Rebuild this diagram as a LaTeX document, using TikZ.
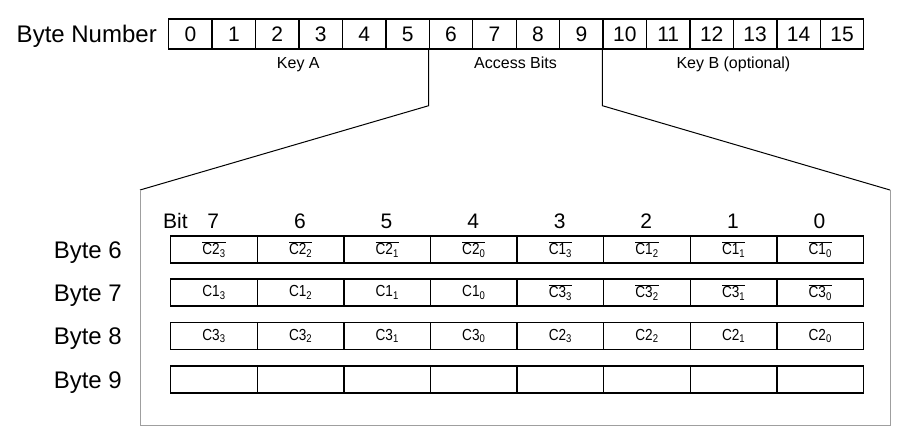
\documentclass[tikz,border=0pt]{standalone}
\usepackage{fontspec}
\setmainfont{Liberation Sans}
\newfontfamily\cellfont[FakeStretch=0.85]{Liberation Sans}
\usetikzlibrary{positioning}
\usetikzlibrary{calc}

\newcommand{\negbit}[2]{$\overline{\hbox{#1\textsubscript{#2}}}$}
\newcommand{\posbit}[2]{#1\textsubscript{#2}}

\tikzset{
	bytecell/.style={draw, line width=1.4pt, minimum width=43.44pt, minimum height=30pt, inner sep=0pt, anchor=west, text height=15.1pt, text depth=0pt, font=\fontsize{21}{24}\selectfont},
	bitcell/.style={draw, line width=1.4pt, minimum width=86.6pt, minimum height=27pt, inner sep=0pt, anchor=west, font=\cellfont\fontsize{16}{18}\selectfont},
	keylabel/.style={inner sep=0pt, text height=11.5pt, text depth=0pt, font=\fontsize{16}{18}\selectfont},
	bignum/.style={inner sep=0pt, text height=15.1pt, text depth=0pt, font=\fontsize{21}{24}\selectfont},
	rowlabel/.style={inner sep=0pt, text height=17.2pt, text depth=0pt, font=\fontsize{24}{28}\selectfont},
	zoomline/.style={line width=1pt},
	zoombox/.style={line width=1pt, draw=gray!75}
}

\begin{document}
\begin{tikzpicture}[x=1pt, y=-1pt]
	\useasboundingbox (0,0) rectangle (910,445);
	% byte layout of the sector trailer
	\foreach \i in {0,...,15}
		\node[bytecell] (byte\i) at ({168+43.44*\i},34) {\i};
	\node[rowlabel, left=11pt of byte0] (bytenumber) {Byte Number};
	\node[keylabel] (keyA) at ($(byte0.south west)!0.5!(byte6.south west)+(0,13)$) {Key A};
	\node[keylabel] (access) at ($(byte6.south west)!0.5!(byte10.south west)+(0,13)$) {Access Bits};
	\node[keylabel] (keyB) at ($(byte10.south west)!0.5!(byte15.south east)+(0,13)$) {Key B (optional)};
	% zoom onto the access bits
	\coordinate (bendL) at ($(byte6.south west)+(0,56)$);
	\coordinate (bendR) at ($(byte10.south west)+(0,56)$);
	\coordinate (zoomTL) at (140,190);
	\coordinate (zoomTR) at (890,190);
	\coordinate (zoomBL) at (140,425);
	\coordinate (zoomBR) at (890,425);
	\draw[zoomline] (byte6.south west) -- (bendL) -- (zoomTL);
	\draw[zoomline] (byte10.south west) -- (bendR) -- (zoomTR);
	\draw[zoombox] (zoomTL) -- (zoomBL) -- (zoomBR) -- (zoomTR);
	% bit numbers
	\node[bignum, anchor=west] (bitlabel) at (163,221) {Bit};
	\foreach \b [count=\j from 0] in {7,6,5,4,3,2,1,0}
		\node[bignum] (bit\b) at ({213.3+86.6*\j},221) {\b};
	% access bit rows
	\foreach \txt [count=\j from 0] in {\negbit{C2}{3},\negbit{C2}{2},\negbit{C2}{1},\negbit{C2}{0},\negbit{C1}{3},\negbit{C1}{2},\negbit{C1}{1},\negbit{C1}{0}}
		\node[bitcell] (row6c\j) at ({170+86.6*\j},249.5) {\txt};
	\foreach \txt [count=\j from 0] in {\posbit{C1}{3},\posbit{C1}{2},\posbit{C1}{1},\posbit{C1}{0},\negbit{C3}{3},\negbit{C3}{2},\negbit{C3}{1},\negbit{C3}{0}}
		\node[bitcell] (row7c\j) at ({170+86.6*\j},292.5) {\txt};
	\foreach \txt [count=\j from 0] in {\posbit{C3}{3},\posbit{C3}{2},\posbit{C3}{1},\posbit{C3}{0},\posbit{C2}{3},\posbit{C2}{2},\posbit{C2}{1},\posbit{C2}{0}}
		\node[bitcell] (row8c\j) at ({170+86.6*\j},336) {\txt};
	\foreach \j in {0,...,7}
		\node[bitcell] (row9c\j) at ({170+86.6*\j},379.5) {};
	\node[rowlabel, left=48pt of row6c0] (byte6label) {Byte 6};
	\node[rowlabel, left=48pt of row7c0] (byte7label) {Byte 7};
	\node[rowlabel, left=48pt of row8c0] (byte8label) {Byte 8};
	\node[rowlabel, left=48pt of row9c0] (byte9label) {Byte 9};
\end{tikzpicture}
\end{document}
